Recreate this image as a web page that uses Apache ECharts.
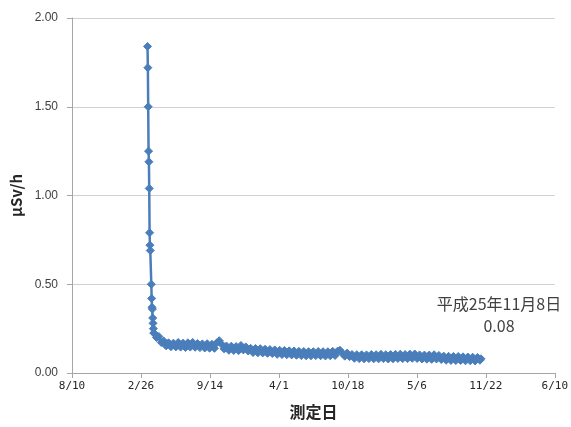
<!DOCTYPE html>
<html>
<head>
<meta charset="utf-8">
<script src="https://cdn.jsdelivr.net/npm/echarts@6/dist/echarts.min.js"></script>
<style>
html,body{margin:0;padding:0;background:#fff;}
#c{width:571px;height:427px;}
</style>
</head>
<body>
<div id="c"></div>
<script>
// Axis: days counted from this origin date, ticks every 200 days
const axisOrigin = '2010-08-10';
const axisTickDays = [0, 200, 400, 600, 800, 1000, 1200, 1400];
const yTicks = [0, 0.5, 1.0, 1.5, 2.0];

// Early daily measurements (μSv/h)
const earlyDates = ['2011-03-17','2011-03-18','2011-03-19','2011-03-20','2011-03-21','2011-03-22','2011-03-23','2011-03-24','2011-03-25',
                    '2011-03-28','2011-03-29','2011-03-30','2011-03-31','2011-04-01','2011-04-02','2011-04-03','2011-04-04'];
const earlyValues = [1.84, 1.72, 1.50, 1.25, 1.19, 1.04, 0.79, 0.72, 0.69,
                     0.50, 0.42, 0.37, 0.36, 0.31, 0.28, 0.25, 0.225];

// Weekly readings starting 2011-04-05 (one value per week)
const weeklyStart = '2011-04-05';
const weeklyValues = [
  0.225, 0.2, 0.205, 0.172, 0.18, 0.153, 0.17, 0.148, 0.168, 0.147,
  0.172, 0.146, 0.168, 0.144, 0.17, 0.146, 0.172, 0.145, 0.166, 0.143,
  0.164, 0.141, 0.165, 0.14, 0.162, 0.139, 0.17, 0.182, 0.162, 0.136,
  0.152, 0.128, 0.151, 0.127, 0.149, 0.126, 0.155, 0.13, 0.147, 0.124,
  0.139, 0.115, 0.138, 0.114, 0.137, 0.113, 0.134, 0.111, 0.132, 0.11,
  0.13, 0.105, 0.128, 0.104, 0.127, 0.103, 0.125, 0.102, 0.124, 0.1,
  0.122, 0.098, 0.121, 0.097, 0.12, 0.097, 0.12, 0.098, 0.121, 0.097,
  0.12, 0.096, 0.12, 0.097, 0.122, 0.099, 0.123, 0.128, 0.112, 0.095,
  0.112, 0.092, 0.104, 0.083, 0.103, 0.081, 0.103, 0.08, 0.102, 0.081,
  0.104, 0.08, 0.103, 0.08, 0.105, 0.081, 0.103, 0.079, 0.104, 0.08,
  0.105, 0.082, 0.106, 0.081, 0.104, 0.081, 0.106, 0.083, 0.107, 0.082,
  0.102, 0.079, 0.101, 0.078, 0.101, 0.077, 0.103, 0.079, 0.099, 0.076,
  0.095, 0.072, 0.094, 0.071, 0.093, 0.07, 0.093, 0.071, 0.091, 0.069,
  0.09, 0.069, 0.089, 0.068, 0.088, 0.072
];

// Last measurement
const lastDate = '2013-11-08';
const lastValue = 0.08;
const lastLabel = '平成25年11月8日';

const DAY = 86400000;
const t0 = Date.parse(axisOrigin + 'T00:00:00Z');
function dayNum(s){ return Math.round((Date.parse(s + 'T00:00:00Z') - t0) / DAY); }

const data = [];
earlyDates.forEach((d, i) => data.push([dayNum(d), earlyValues[i]]));
const ws = dayNum(weeklyStart);
weeklyValues.forEach((v, i) => data.push([ws + 7 * i, v]));
data.push([dayNum(lastDate), lastValue]);

const chart = echarts.init(document.getElementById('c'));
const lineColor = '#4a7ebb';
const textFont = '"Noto Sans CJK JP", "Noto Sans", sans-serif';

chart.setOption({
  animation: false,
  backgroundColor: '#ffffff',
  grid: { left: 72, right: 11, top: 18, bottom: 54, containLabel: false },
  xAxis: {
    type: 'value',
    min: axisTickDays[0],
    max: axisTickDays[axisTickDays.length - 1],
    interval: 200,
    name: '測定日',
    nameLocation: 'middle',
    nameGap: 31,
    nameTextStyle: { fontFamily: textFont, fontWeight: 'bold', fontSize: 16, color: '#262626' },
    axisLine: { show: true, lineStyle: { color: '#a6a6a6', width: 1 } },
    axisTick: { show: true, length: 5, inside: false, lineStyle: { color: '#a6a6a6' } },
    axisLabel: {
      fontFamily: '"DejaVu Sans Mono", monospace', fontSize: 11, color: '#262626', margin: 8,
      showMaxLabel: true,
      formatter: function (v) {
        const d = new Date(t0 + v * DAY);
        return (d.getUTCMonth() + 1) + '/' + d.getUTCDate();
      }
    },
    splitLine: { show: false }
  },
  yAxis: {
    type: 'value',
    min: 0, max: 2, interval: 0.5,
    name: 'μSv/h',
    nameLocation: 'middle',
    nameGap: 47,
    nameRotate: 90,
    nameTextStyle: { fontFamily: textFont, fontWeight: 'bold', fontSize: 15, color: '#262626' },
    axisLine: { show: true, lineStyle: { color: '#a6a6a6', width: 1 } },
    axisTick: { show: true, length: 5, lineStyle: { color: '#a6a6a6' } },
    axisLabel: {
      fontFamily: '"Liberation Sans", Arial, sans-serif', fontSize: 12, color: '#404040', margin: 14,
      formatter: v => v.toFixed(2)
    },
    splitLine: { show: true, lineStyle: { color: '#d0d0d0', width: 1 } }
  },
  series: [{
    type: 'line',
    data: data,
    symbol: 'diamond',
    symbolSize: 8,
    showAllSymbol: true,
    lineStyle: { color: lineColor, width: 2.5 },
    itemStyle: { color: lineColor, borderColor: lineColor },
    emphasis: { disabled: true }
  }],
  graphic: [{
    type: 'text',
    x: 499,
    y: 293,
    style: {
      text: lastLabel + '\n' + lastValue.toFixed(2),
      align: 'center',
      verticalAlign: 'top',
      fill: '#404040',
      font: '16px "Noto Sans CJK JP", sans-serif',
      lineHeight: 22
    }
  }]
});
</script>
</body>
</html>
